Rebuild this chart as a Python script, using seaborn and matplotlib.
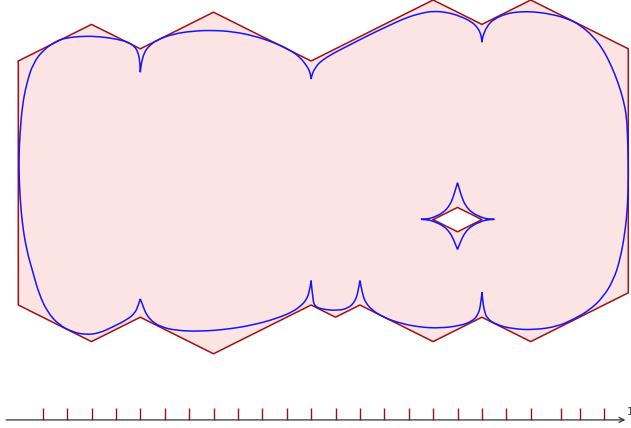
import matplotlib
matplotlib.use("Agg")
import matplotlib.pyplot as plt
from matplotlib.path import Path
from matplotlib.patches import PathPatch
import seaborn as sns
import numpy as np

# Region boundary (grid units, y measured downward)
outer_x = [0, 3, 5, 8, 12, 17, 19, 21, 25, 25, 21, 19, 17, 14, 13, 12, 8, 5, 3, 0]
outer_y = [2.5, 1, 2, 0.5, 2.5, 0, 1, 0, 2, 12, 14, 13, 14, 12.5, 13, 12.5, 14.5, 13, 14, 12.5]
hole_x = [17, 18, 19, 18]
hole_y = [9, 8.5, 9, 9.5]

# Smoothed outer contour (control points, cusps where the direction flips)
curve_x = [5.00, 5.02, 5.06, 5.15, 5.33, 5.67, 6.35, 7.17, 7.99, 8.81, 9.63, 10.45, 11.14, 11.55, 11.79, 11.92, 11.98, 12.00,
           12.04, 12.16, 12.36, 12.91, 13.59, 14.28, 15.10, 15.92, 16.60, 17.01, 17.56, 18.10, 18.58, 18.85, 18.96, 18.99, 19.00,
           19.02, 19.06, 19.20, 19.47, 20.02, 20.56, 21.11, 21.79, 22.48, 23.02, 23.57, 23.98, 24.32, 24.59, 24.80, 24.93, 24.97,
           25.00, 25.00, 24.97, 24.86, 24.66, 24.39, 23.98, 23.43, 22.75,
           22.07, 21.11, 20.29, 19.61, 19.20, 19.09, 19.03, 19.00,
           18.96, 18.85, 18.58, 18.10, 17.28, 16.46, 15.64, 14.96, 14.48, 14.21, 14.10, 14.00,
           13.93, 13.80, 13.52, 13.05, 12.50, 12.16, 12.07, 12.00,
           11.93, 11.75, 11.61, 11.27, 10.59, 9.63, 8.54, 7.45, 6.49, 5.81, 5.40, 5.19, 5.10, 5.00,
           4.92, 4.78, 4.44, 3.89, 3.30, 2.75, 2.20, 1.65, 1.20, 0.85, 0.61, 0.34, 0.16, 0.07, 0.03, 0.03, 0.07,
           0.16, 0.34, 0.61, 1.02, 1.57, 1.98, 2.66, 3.35, 4.03, 4.51, 4.78, 4.92, 4.99, 5.00]
curve_y = [2.96, 2.75, 2.53, 2.18, 1.91, 1.64, 1.39, 1.27, 1.24, 1.30, 1.46, 1.73, 2.05, 2.35, 2.66, 2.87, 3.07, 3.24,
           3.03, 2.80, 2.53, 2.18, 1.84, 1.48, 1.09, 0.71, 0.52, 0.46, 0.50, 0.66, 0.89, 1.16, 1.43, 1.60, 1.73,
           1.56, 1.43, 1.09, 0.79, 0.55, 0.48, 0.48, 0.57, 0.75, 1.02, 1.50, 2.05, 2.73, 3.41, 4.10, 4.78, 5.60,
           6.69, 7.38, 8.47, 9.56, 10.66, 11.48, 12.16, 12.70, 13.09,
           13.39, 13.52, 13.48, 13.32, 13.05, 12.70, 12.30, 11.98,
           12.43, 12.91, 13.18, 13.35, 13.45, 13.41, 13.25, 13.00, 12.70, 12.36, 12.02, 11.50,
           11.95, 12.36, 12.64, 12.73, 12.68, 12.57, 12.30, 11.50,
           12.02, 12.36, 12.50, 12.77, 13.05, 13.32, 13.50, 13.58, 13.55, 13.39, 13.11, 12.77, 12.50, 12.25,
           12.50, 12.84, 13.11, 13.39, 13.66, 13.72, 13.60, 13.30, 12.80, 12.05, 11.20, 10.25, 9.15, 8.06, 7.10, 6.28, 5.46,
           4.37, 3.41, 2.59, 2.05, 1.67, 1.55, 1.48, 1.50, 1.60, 1.73, 1.91, 2.18, 2.59, 2.96]

# Smoothed contour around the hole (four-cusped star)
star_x = [16.50, 16.75, 16.99, 17.42, 17.69, 17.83, 17.93, 18.00,
          18.07, 18.17, 18.31, 18.58, 19.01, 19.25, 19.51,
          19.25, 19.01, 18.58, 18.31, 18.17, 18.07, 18.00,
          17.93, 17.83, 17.69, 17.42, 16.99, 16.75, 16.50]
star_y = [8.99, 8.98, 8.92, 8.72, 8.40, 8.06, 7.72, 7.49,
          7.72, 8.06, 8.40, 8.72, 8.92, 8.98, 8.99,
          9.00, 9.06, 9.25, 9.53, 9.80, 10.05, 10.22,
          10.05, 9.80, 9.53, 9.25, 9.06, 9.00, 8.99]

# Parameter axis ticks
tick_pos = [1, 2, 3, 4, 5, 6, 7, 8, 9, 10, 11, 12, 13, 14, 15, 16, 17, 18, 19, 20, 21, 22.25, 23, 24]


def spline_path(xs, ys):
    """Quadratic B-spline path through the control points, kept sharp at cusps."""
    pts = np.column_stack([xs, ys])
    d_in = pts[1:-1] - pts[:-2]
    d_out = pts[2:] - pts[1:-1]
    cusps = [0] + [i + 1 for i in range(len(d_in)) if np.dot(d_in[i], d_out[i]) < 0] + [len(pts) - 1]
    verts, codes = [], []
    for a, b in zip(cusps[:-1], cusps[1:]):
        seg = pts[a:b + 1]
        verts.append(seg[0]); codes.append(Path.MOVETO)
        if len(seg) == 2:
            verts.append(seg[1]); codes.append(Path.LINETO)
            continue
        for i in range(1, len(seg) - 1):
            end = seg[-1] if i == len(seg) - 2 else (seg[i] + seg[i + 1]) / 2
            verts += [seg[i], end]
            codes += [Path.CURVE3, Path.CURVE3]
    return Path(verts, codes)


sns.set_theme(style="white")
fig = plt.figure(figsize=(6.31, 4.28), dpi=100)
ax = fig.add_axes([0, 0, 1, 1])

edge = "#a01010"
blue = "#1414ff"
ax.fill(outer_x, outer_y, color="#fde4e4", lw=0, zorder=1)
ax.fill(hole_x, hole_y, color="white", lw=0, zorder=2)
sns.lineplot(x=outer_x + outer_x[:1], y=outer_y + outer_y[:1], sort=False, estimator=None,
             color=edge, lw=1.1, ax=ax, zorder=3)
sns.lineplot(x=hole_x + hole_x[:1], y=hole_y + hole_y[:1], sort=False, estimator=None,
             color=edge, lw=1.1, ax=ax, zorder=3)
for cx, cy in [(curve_x, curve_y), (star_x, star_y)]:
    ax.add_patch(PathPatch(spline_path(cx, cy), fill=False, edgecolor=blue, lw=1.1,
                           joinstyle="miter", zorder=4))

# Axis with arrow and ticks
axis_y = 17.21
ax.annotate("", xy=(24.88, axis_y), xytext=(-0.50, axis_y),
            arrowprops=dict(arrowstyle="->", color="#333333", lw=0.9, shrinkA=0, shrinkB=0,
                            mutation_scale=9))
ax.vlines(tick_pos, 16.72, axis_y, color=edge, lw=1.0)
ax.text(24.93, 16.9, "1", fontsize=8, color="#333333", ha="left", va="center")

ax.set_xlim(-0.75, 25.11)
ax.set_ylim(428 / 24.4, 0)
ax.axis("off")
fig.savefig("out.png", dpi=100)
